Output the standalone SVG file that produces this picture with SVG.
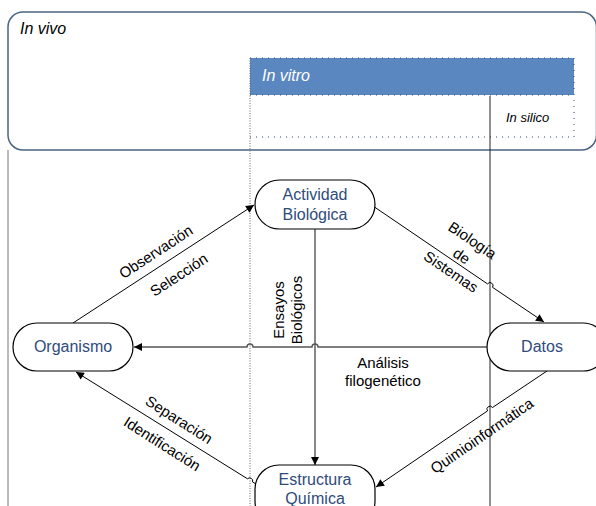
<svg xmlns="http://www.w3.org/2000/svg" width="596" height="506" viewBox="0 0 596 506">
<defs>
<marker id="arr" viewBox="0 0 10 10" refX="10" refY="5" markerWidth="10" markerHeight="8" markerUnits="userSpaceOnUse" orient="auto">
<path d="M0,0 L10,5 L0,10 z" fill="#000"/>
</marker>
</defs>
<style>
.node rect{fill:#fff;stroke:#000;stroke-width:1.2}
.nt{font-family:"Liberation Sans",Arial,sans-serif;font-size:16px;fill:#2f4b7c;text-anchor:middle}
.lbl{font-family:"Liberation Sans",Arial,sans-serif;font-size:15px;fill:#000;text-anchor:middle}
.zone{font-family:"Liberation Sans",Arial,sans-serif;font-style:italic}
.conn path{fill:none;stroke:#000;stroke-width:1}
.conn path.g{stroke:#555;stroke-width:1.4}
.dots{stroke:#2d4a73;stroke-width:1;stroke-dasharray:1 5;fill:none}
</style>
<g id="zones">
<rect x="8" y="12" width="588.5" height="138" rx="15" ry="15" fill="#fff" stroke="#4a6485" stroke-width="1.5"/>
<text class="zone" x="20" y="34" font-size="16" fill="#000">In vivo</text>
<rect x="250" y="58" width="324" height="37" fill="#5b87c0"/>
<text class="zone" x="262" y="81" font-size="16" fill="#fff">In vitro</text>
<path class="dots" d="M250 58 H574 M250 95 H574 M250 137 H574 M574 58 V137"/>
<text class="zone" x="506" y="122" font-size="13" fill="#000">In silico</text>
<line x1="8" y1="150" x2="8" y2="506" stroke="#777" stroke-width="1"/>
<line x1="250" y1="58" x2="250" y2="506" stroke="#666" stroke-width="1" stroke-dasharray="1 1.5"/>
<line x1="490" y1="96" x2="490" y2="506" stroke="#222" stroke-width="1"/>
</g>
<g id="connectors" class="conn">
<path d="M73 323 L254 205" marker-end="url(#arr)"/>
<path d="M373 206 L487.5 283.9 A3 3 0 0 1 492.5 287.3 L544 322" marker-end="url(#arr)"/>
<path class="g" d="M487 347 L318 347 A3 3 0 0 0 312 347 L253 347 A3 3 0 0 0 247 347 L134 347" marker-end="url(#arr)"/>
<path class="g" d="M315 229 L315 465" marker-end="url(#arr)"/>
<path d="M547 371 L492.5 407.5 A3 3 0 0 0 487.5 410.9 L376 487" marker-end="url(#arr)"/>
<path d="M256 484 L252.5 481.9 A3 3 0 0 0 247.5 478.8 L76 372" marker-end="url(#arr)"/>
</g>
<g id="labels">
<text class="lbl" transform="translate(156,252) rotate(-33.4)" y="5">Observación</text>
<text class="lbl" transform="translate(179,275) rotate(-33.4)" y="5">Selección</text>
<g transform="translate(461,257) rotate(34)">
<text class="lbl" y="-15">Biología</text>
<text class="lbl" y="4">de</text>
<text class="lbl" y="23">Sistemas</text>
</g>
<text class="lbl" x="383" y="368">Análisis</text>
<text class="lbl" x="383" y="386">filogenético</text>
<text class="lbl" transform="translate(284,310) rotate(-90)">Ensayos</text>
<text class="lbl" transform="translate(302,310) rotate(-90)">Biológicos</text>
<text class="lbl" transform="translate(482,436) rotate(-34.5)" y="5">Quimioinformática</text>
<text class="lbl" transform="translate(179,420) rotate(32.5)" y="5">Separación</text>
<text class="lbl" transform="translate(162,444) rotate(32.5)" y="5">Identificación</text>
</g>
<g id="actividad" class="node">
<rect x="255" y="180" width="120" height="49" rx="24.5"/>
<text class="nt" x="315" y="200">Actividad</text>
<text class="nt" x="315" y="220">Biológica</text>
</g>
<g id="organismo" class="node">
<rect x="13" y="323" width="120" height="48" rx="24"/>
<text class="nt" x="73" y="352">Organismo</text>
</g>
<g id="datos" class="node">
<rect x="487" y="323" width="120" height="48" rx="24"/>
<text class="nt" x="542" y="352">Datos</text>
</g>
<g id="estructura" class="node">
<rect x="255" y="465" width="120" height="60" rx="24"/>
<text class="nt" x="315" y="485">Estructura</text>
<text class="nt" x="315" y="504">Química</text>
</g>
</svg>
